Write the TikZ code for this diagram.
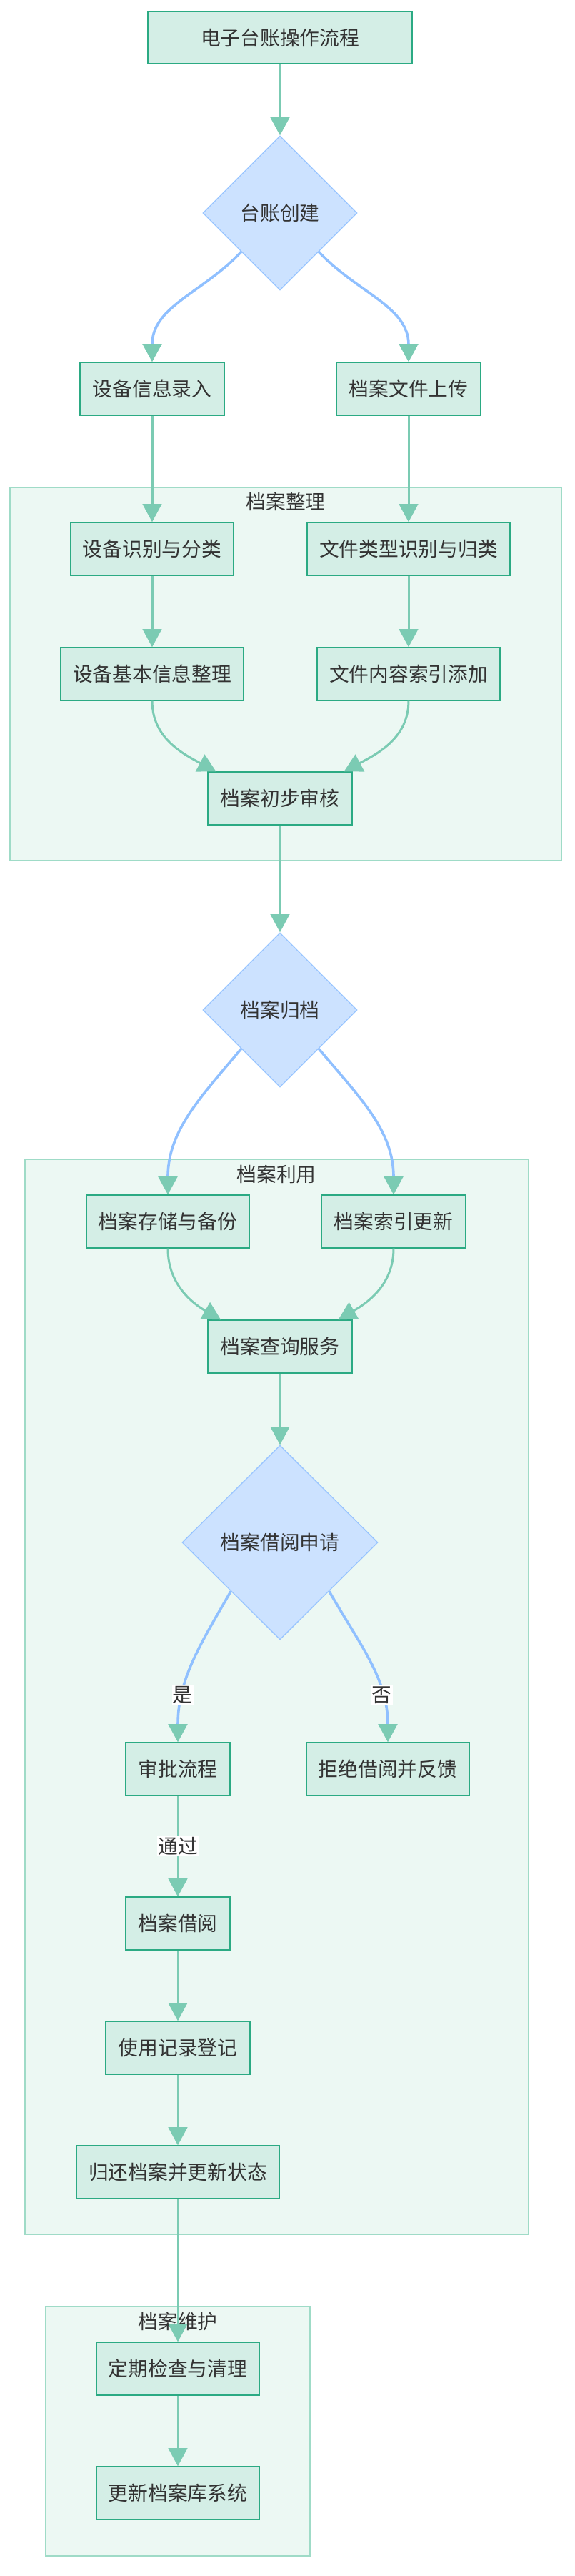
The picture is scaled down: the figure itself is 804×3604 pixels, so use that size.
\documentclass[tikz,border=0pt]{standalone}
\usepackage{fontspec}
\usetikzlibrary{shapes.geometric, arrows.meta}
\newfontfamily\cjk{Noto Sans CJK SC}

\definecolor{boxfill}{HTML}{D4EEE6}
\definecolor{boxline}{HTML}{2BAA83}
\definecolor{flowgreen}{HTML}{7BCBB3}
\definecolor{grpfill}{HTML}{ECF8F3}
\definecolor{grpline}{HTML}{9FDBC7}
\definecolor{decfill}{HTML}{CCE2FF}
\definecolor{decline}{HTML}{99C5FF}
\definecolor{branchblue}{HTML}{90C0FF}
\definecolor{txt}{HTML}{333333}

\begin{document}
\begin{tikzpicture}[x=0.75pt, y=0.75pt,
    stepbox/.style={draw=boxline, fill=boxfill, line width=1.5pt, minimum height=55pt,
      inner xsep=13pt, text=txt, font=\cjk\fontsize{20.8pt}{25pt}\selectfont},
    decision/.style={diamond, draw=decline, fill=decfill, line width=1pt, inner sep=0pt,
      minimum width=162pt, minimum height=162pt, text=txt, font=\cjk\fontsize{20.8pt}{25pt}\selectfont},
    group/.style={draw=grpline, fill=grpfill, line width=1.5pt},
    grouptitle/.style={text=txt, font=\cjk\fontsize{20.8pt}{25pt}\selectfont},
    flow/.style={draw=flowgreen, line width=2.25pt, -{Triangle[length=19pt, width=20pt, color=flowgreen]}},
    branch/.style={draw=branchblue, line width=2.7pt, -{Triangle[length=19pt, width=20pt, color=flowgreen]}},
    tag/.style={fill=white, inner sep=1pt, text=txt, font=\cjk\fontsize{20.8pt}{25pt}\selectfont}]

  \useasboundingbox (0,0) rectangle (804,-3604);

  % Группы
  \draw[group] (14,-682) rectangle (786,-1204);
  \node[grouptitle] (g1) at (400,-702) {档案整理};
  \draw[group] (35,-1622) rectangle (740,-3126);
  \node[grouptitle] (g2) at (387,-1643) {档案利用};
  \draw[group] (64,-3227) rectangle (434,-3576);
  \node[grouptitle] (g3) at (249,-3248) {档案维护};

  % Шаги
  \node[stepbox, minimum width=277.5pt] (start) at (392,-52.5) {电子台账操作流程};
  \node[decision] (create) at (392,-298) {台账创建};
  \node[stepbox] (info) at (213,-544) {设备信息录入};
  \node[stepbox] (upload) at (572,-544) {档案文件上传};
  \node[stepbox] (classify) at (213,-768) {设备识别与分类};
  \node[stepbox] (ftype) at (572,-768) {文件类型识别与归类};
  \node[stepbox] (basic) at (213,-943) {设备基本信息整理};
  \node[stepbox] (index) at (572,-943) {文件内容索引添加};
  \node[stepbox] (audit) at (392,-1117) {档案初步审核};
  \node[decision] (archive) at (392,-1413) {档案归档};
  \node[stepbox] (store) at (235,-1709) {档案存储与备份};
  \node[stepbox] (reindex) at (551,-1709) {档案索引更新};
  \node[stepbox] (query) at (392,-1884) {档案查询服务};
  \node[decision, minimum width=205.5pt, minimum height=204pt] (request) at (392,-2158) {档案借阅申请};
  \node[stepbox] (approve) at (249,-2475) {审批流程};
  \node[stepbox] (reject) at (543,-2475) {拒绝借阅并反馈};
  \node[stepbox] (borrow) at (249,-2691) {档案借阅};
  \node[stepbox] (record) at (249,-2865) {使用记录登记};
  \node[stepbox] (giveback) at (249,-3039) {归还档案并更新状态};
  \node[stepbox] (check) at (249,-3314) {定期检查与清理};
  \node[stepbox] (update) at (249,-3488) {更新档案库系统};

  % Связи
  \draw[flow] (start) -- (create);
  \draw[branch] (create.south west) to[out=-133, in=90] (info.north);
  \draw[branch] (create.south east) to[out=-47, in=90] (upload.north);
  \draw[flow] (info) -- (classify);
  \draw[flow] (upload) -- (ftype);
  \draw[flow] (classify) -- (basic);
  \draw[flow] (ftype) -- (index);
  \draw[flow] (basic.south) to[out=-90, in=152] ([xshift=9pt]audit.north west);
  \draw[flow] (index.south) to[out=-90, in=28] ([xshift=-9pt]audit.north east);
  \draw[flow] (audit) -- (archive);
  \draw[branch] (archive.south west) to[out=-130, in=90] (store.north);
  \draw[branch] (archive.south east) to[out=-50, in=90] (reindex.north);
  \draw[flow] (store.south) to[out=-90, in=150] ([xshift=14pt]query.north west);
  \draw[flow] (reindex.south) to[out=-90, in=30] ([xshift=-15pt]query.north east);
  \draw[flow] (query) -- (request);
  \draw[branch] (request.south west) to[out=-120, in=90] node[tag, pos=0.72] (yes) {是} (approve.north);
  \draw[branch] (request.south east) to[out=-60, in=90] node[tag, pos=0.72] (no) {否} (reject.north);
  \draw[flow] (approve) -- node[tag] (pass) {通过} (borrow);
  \draw[flow] (borrow) -- (record);
  \draw[flow] (record) -- (giveback);
  \draw[flow] (giveback) -- (check);
  \draw[flow] (check) -- (update);
\end{tikzpicture}
\end{document}
